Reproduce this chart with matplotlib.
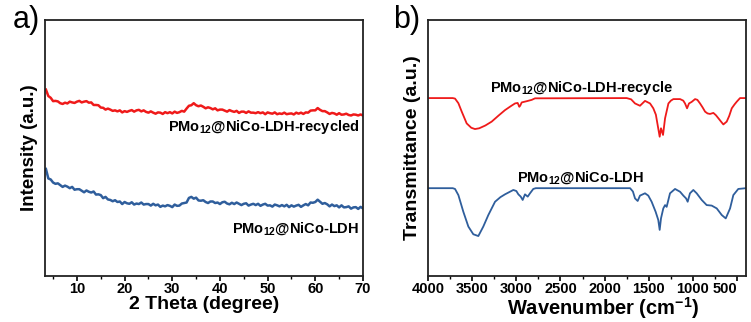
import numpy as np
import matplotlib
matplotlib.use("Agg")
import matplotlib.pyplot as plt
from matplotlib.ticker import MultipleLocator

plt.rcParams['font.family'] = ['Liberation Sans', 'DejaVu Sans']
plt.rcParams['font.weight'] = 'bold'
plt.rcParams['mathtext.fontset'] = 'custom'
plt.rcParams['mathtext.rm'] = 'Liberation Sans:bold'
plt.rcParams['mathtext.bf'] = 'Liberation Sans:bold'
plt.rcParams['mathtext.default'] = 'bf'

# XRD patterns, sampled every 0.5 degree from 3.5 to 70
two_theta = np.arange(3.5, 70.01, 0.5)
xrd_recycled = [
    72.8, 70.3, 69.6, 68.3, 68.4, 68.2, 67.5, 67.2, 67.7, 67.4,
    68.1, 67.8, 67.6, 68.1, 68.4, 67.8, 68.1, 68.3, 67.7, 67.8,
    66.8, 66.8, 66.7, 65.8, 65.7, 65.0, 65.4, 65.0, 64.5, 64.7,
    64.3, 64.7, 63.9, 64.4, 64.1, 64.5, 64.8, 64.2, 64.7, 64.9,
    64.3, 64.7, 64.1, 63.8, 64.3, 63.8, 63.4, 63.9, 63.8, 63.3,
    64.0, 63.6, 64.0, 63.5, 64.2, 63.7, 64.0, 64.5, 64.2, 65.4,
    66.5, 66.7, 67.5, 66.7, 66.3, 66.6, 66.1, 65.5, 65.9, 65.6,
    65.1, 65.5, 64.7, 65.0, 65.0, 64.6, 64.2, 64.8, 64.4, 64.1,
    64.5, 63.7, 64.2, 64.2, 63.7, 64.3, 63.8, 63.8, 63.6, 64.0,
    63.6, 63.9, 63.2, 63.9, 63.6, 63.4, 63.9, 63.2, 63.5, 63.3,
    63.8, 63.2, 63.4, 63.5, 63.1, 63.8, 63.4, 63.8, 63.3, 63.9,
    63.8, 64.6, 64.7, 64.7, 65.6, 64.9, 64.4, 64.4, 63.9, 63.3,
    63.7, 63.5, 63.0, 63.6, 63.0, 63.1, 63.4, 62.9, 62.7, 63.1,
    63.0, 62.7, 63.1, 62.7,
]
xrd_fresh = [
    41.8, 38.1, 37.7, 36.5, 36.0, 36.2, 35.5, 34.8, 35.3, 34.9,
    34.3, 34.8, 33.7, 33.9, 33.9, 33.3, 32.7, 33.4, 32.9, 32.6,
    33.0, 31.8, 31.9, 31.6, 30.4, 30.9, 29.9, 29.7, 29.2, 29.6,
    28.9, 29.1, 28.1, 28.9, 28.4, 28.2, 28.8, 27.9, 28.3, 28.1,
    28.7, 27.9, 28.1, 28.1, 27.5, 28.2, 27.6, 27.9, 27.0, 27.5,
    27.2, 27.7, 27.4, 26.9, 27.9, 27.4, 27.5, 28.3, 28.5, 28.7,
    30.5, 30.9, 30.2, 30.6, 29.5, 29.4, 29.6, 28.9, 28.5, 29.1,
    29.1, 28.5, 28.7, 28.1, 28.8, 29.0, 28.3, 28.0, 28.6, 28.1,
    28.7, 28.2, 27.7, 28.2, 28.4, 27.5, 27.9, 28.2, 27.7, 28.2,
    27.4, 27.9, 28.2, 27.5, 27.6, 27.1, 27.9, 27.6, 27.2, 27.7,
    27.2, 27.8, 26.9, 27.6, 27.1, 27.5, 27.8, 27.0, 27.6, 28.1,
    27.6, 28.7, 28.6, 28.9, 29.8, 29.0, 28.2, 28.5, 28.0, 27.2,
    27.9, 27.3, 27.6, 26.8, 27.6, 26.8, 26.9, 27.2, 26.3, 26.8,
    26.9, 26.2, 27.0, 26.4,
]

# FTIR spectra
wn_recycled = [4000, 3720, 3694, 3656, 3618, 3562, 3510, 3468, 3420, 3350,
               3279, 3200, 3128, 3060, 3015, 2985, 2966, 2955, 2939, 2880,
               2826, 2788, 1750, 1700, 1656, 1600, 1543, 1486, 1449, 1420,
               1400, 1377, 1362, 1339, 1316, 1278, 1250, 1222, 1146, 1110,
               1090, 1067, 1045, 1015, 976, 950, 920, 890, 863, 835,
               807, 769, 740, 712, 680, 656, 618, 590, 561, 530,
               504, 467, 400]
ir_recycled = [69.5, 69.5, 69.3, 67.5, 64.2, 59.6, 57.9, 57.4, 57.7, 58.8,
               60.3, 62.7, 64.8, 66.4, 67.4, 67.6, 66.1, 66.6, 67.8, 68.3,
               68.8, 69.4, 69.5, 69.0, 67.4, 66.5, 68.4, 67.4, 65.5, 63.0,
               59.0, 54.4, 57.7, 55.1, 61.6, 67.4, 68.5, 69.1, 69.1, 68.5,
               67.4, 65.5, 67.4, 68.0, 69.1, 68.8, 67.4, 65.8, 64.2, 63.5,
               63.3, 63.7, 62.8, 61.6, 60.2, 59.2, 60.3, 62.5, 65.5, 67.0,
               68.1, 69.5, 69.5]
wn_fresh = [4000, 3720, 3694, 3656, 3600, 3543, 3487, 3430, 3374, 3317,
            3241, 3180, 3128, 3034, 3000, 2977, 2950, 2928, 2902, 2871,
            2845, 2808, 2780, 1712, 1680, 1656, 1626, 1600, 1543, 1506,
            1468, 1423, 1393, 1377, 1362, 1336, 1316, 1298, 1260, 1203,
            1146, 1109, 1078, 1060, 1034, 996, 958, 901, 845, 788,
            731, 674, 629, 580, 543, 487, 400]
ir_fresh = [34.3, 34.3, 34.0, 31.6, 25.1, 19.3, 16.3, 15.6, 19.3, 23.8,
            29.0, 30.8, 31.9, 33.6, 33.2, 31.9, 31.0, 29.7, 31.9, 31.0,
            32.3, 34.0, 34.3, 34.3, 33.0, 30.3, 29.3, 31.4, 32.3, 31.4,
            29.0, 25.1, 21.9, 18.0, 22.5, 26.4, 27.7, 27.0, 32.3, 34.0,
            32.9, 31.4, 30.3, 29.0, 32.3, 33.6, 32.3, 29.7, 27.7, 27.5,
            26.4, 23.8, 22.5, 26.4, 31.6, 34.0, 34.3]

red = '#ef1a1a'
blue = '#2f5e9c'
label_recycled_a = r'PMo$_{12}$@NiCo-LDH-recycled'
label_recycled_b = r'PMo$_{12}$@NiCo-LDH-recycle'
label_fresh = r'PMo$_{12}$@NiCo-LDH'

fig = plt.figure(figsize=(7.51, 3.22), dpi=100)
ax1 = fig.add_axes([0.0599, 0.1429, 0.4234, 0.795])
ax2 = fig.add_axes([0.5699, 0.1429, 0.4234, 0.795])

# a) XRD
ax1.plot(two_theta, xrd_recycled, color=red, lw=1.8)
ax1.plot(two_theta, xrd_fresh, color=blue, lw=1.8)
ax1.set_xlim(3.3, 70)
ax1.set_ylim(0, 100)
ax1.xaxis.set_major_locator(MultipleLocator(10))
ax1.xaxis.set_minor_locator(MultipleLocator(5))
ax1.text(69.3, 58.3, label_recycled_a, ha='right', va='center', fontsize=10.5, fontweight='bold')
ax1.text(69.3, 18.4, label_fresh, ha='right', va='center', fontsize=10.5, fontweight='bold')
ax1.set_xlabel('2 Theta (degree)', fontsize=14, fontweight='bold')
ax1.xaxis.set_label_coords(0.5, -0.08)
ax1.set_ylabel('Intensity (a.u.)', fontsize=13.5, fontweight='bold', labelpad=5)

# b) FTIR
ax2.plot(wn_recycled, ir_recycled, color=red, lw=1.3)
ax2.plot(wn_fresh, ir_fresh, color=blue, lw=1.3)
ax2.set_xlim(4000, 400)
ax2.set_ylim(0, 100)
ax2.xaxis.set_major_locator(MultipleLocator(500))
ax2.xaxis.set_minor_locator(MultipleLocator(250))
ax2.text(2260, 73.5, label_recycled_b, ha='center', va='center', fontsize=10.5, fontweight='bold')
ax2.text(2270, 38.5, label_fresh, ha='center', va='center', fontsize=10.5, fontweight='bold')
ax2.set_xlabel('Wavenumber (cm$^{-1}$)', fontsize=14.5, fontweight='bold')
ax2.xaxis.set_label_coords(0.55, -0.075)
ax2.set_ylabel('Transmittance (a.u.)', fontsize=14, fontweight='bold', labelpad=5)

for ax in (ax1, ax2):
    ax.set_yticks([])
    ax.xaxis.label.set_va('top')
    for sp in ax.spines.values():
        sp.set_linewidth(1.3)
        sp.set_color('#222222')
    ax.tick_params(axis='x', which='major', direction='out', length=3.5, width=1.2,
                   labelsize=10.5, pad=0.5)
    ax.tick_params(axis='x', which='minor', direction='out', length=2.2, width=1.0)
    for lbl in ax.get_xticklabels():
        lbl.set_fontweight('bold')

# last wavenumber label sits left of its tick
fig.canvas.draw()
for lbl in ax2.get_xticklabels():
    if lbl.get_text() == '500':
        lbl.set_ha('right')

fig.text(0.017, 0.985, 'a)', fontsize=22, fontweight='normal', va='top', ha='left')
fig.text(0.523, 0.985, 'b)', fontsize=22, fontweight='normal', va='top', ha='left')

fig.savefig('out.png', dpi=100)
